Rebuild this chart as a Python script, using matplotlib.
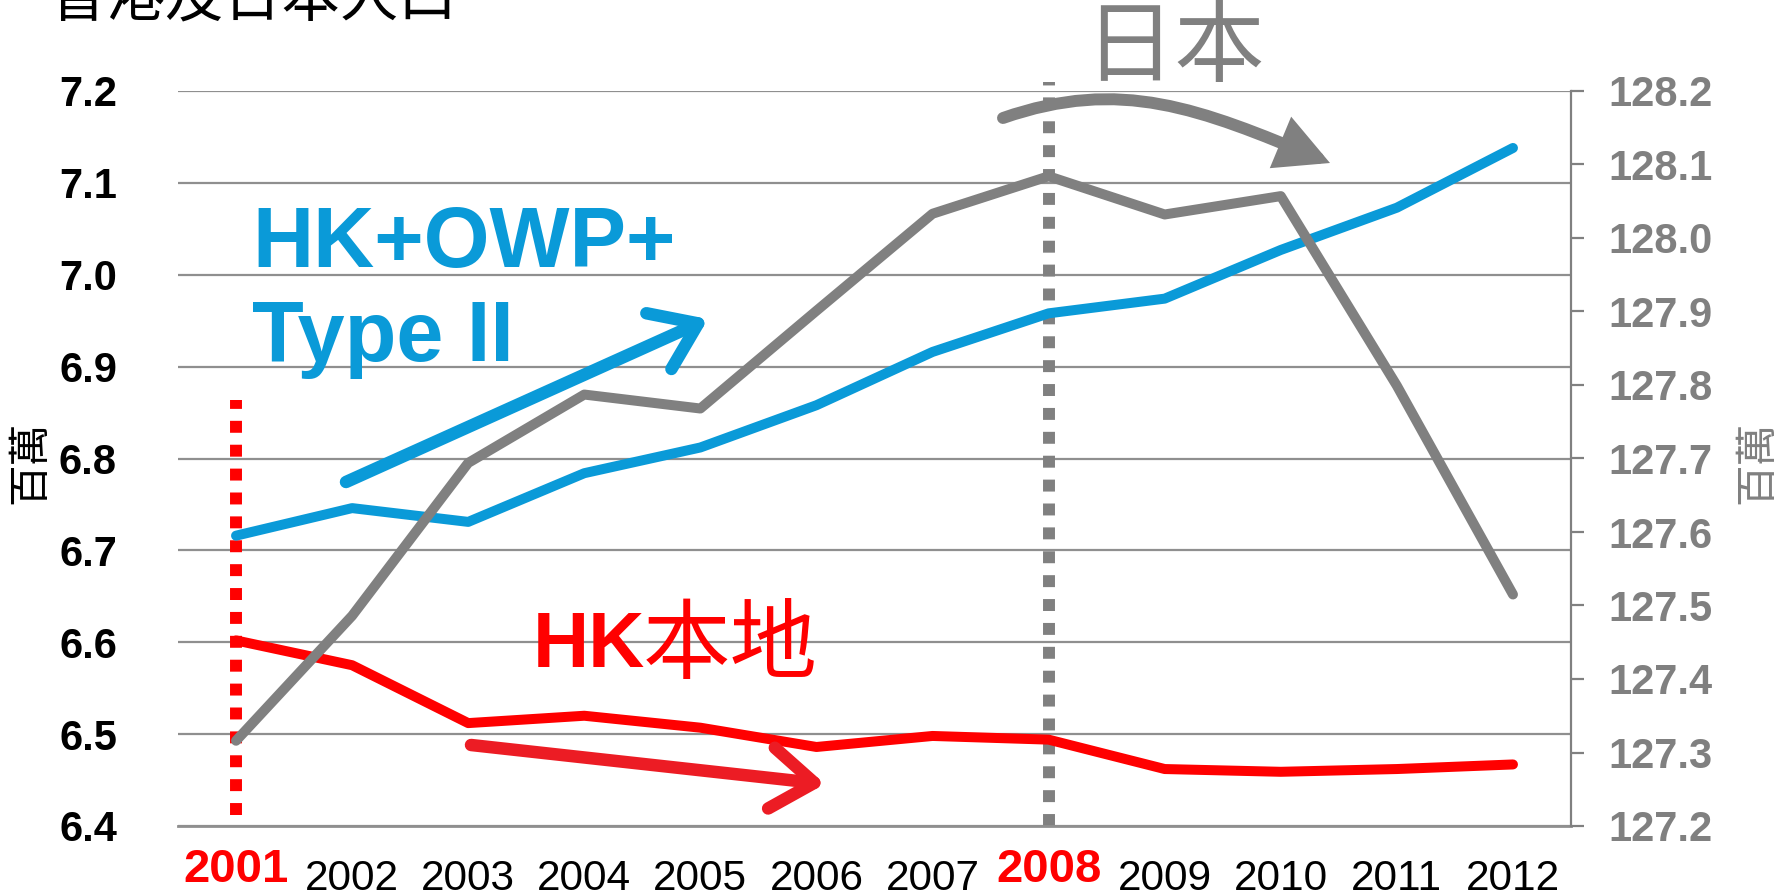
import matplotlib
matplotlib.use("Agg")
import matplotlib.pyplot as plt
from matplotlib.patches import FancyArrowPatch, ArrowStyle
from matplotlib.path import Path
from matplotlib.transforms import IdentityTransform

plt.rcParams['font.family'] = ['Liberation Sans', 'Noto Sans CJK TC']

# ---------------- data ----------------
years = [2001, 2002, 2003, 2004, 2005, 2006, 2007, 2008, 2009, 2010, 2011, 2012]
hk_owp_type2 = [6.716, 6.746, 6.731, 6.784, 6.812, 6.858, 6.916, 6.958, 6.974, 7.027, 7.073, 7.138]
hk_local = [6.602, 6.575, 6.512, 6.520, 6.507, 6.486, 6.498, 6.494, 6.462, 6.459, 6.462, 6.467]
japan = [127.316, 127.486, 127.694, 127.787, 127.768, 127.901, 128.033, 128.084, 128.032, 128.057, 127.799, 127.515]
left_ticks = [6.4, 6.5, 6.6, 6.7, 6.8, 6.9, 7.0, 7.1, 7.2]
right_ticks = [127.2, 127.3, 127.4, 127.5, 127.6, 127.7, 127.8, 127.9, 128.0, 128.1, 128.2]
highlight_years = [2001, 2008]
red_marker_range = [6.412, 6.864]
gray_marker_range = [6.4, 7.21]

title = '香港及日本人口'
unit = '百萬'

BLUE = '#0A9AD8'
RED = '#FF0000'
ARROW_RED = '#EC1C24'
GRAY = '#808080'
GRID = '#8F8F8F'
CJK = 'Noto Sans CJK TC'

W, H = 1779, 896
fig = plt.figure(figsize=(W / 100, H / 100), dpi=100)
ax = fig.add_axes([178 / W, 1 - 826 / H, (1571 - 178) / W, (826 - 91) / H])
ax2 = ax.twinx()


def fp(x, y):
    return x / W, 1 - y / H


# lines
ax.plot(years, hk_owp_type2, color=BLUE, lw=7.2, solid_capstyle='round', solid_joinstyle='round', zorder=3)
ax.plot(years, hk_local, color=RED, lw=7.2, solid_capstyle='round', solid_joinstyle='round', zorder=3)
ax2.plot(years, japan, color=GRAY, lw=7.2, solid_capstyle='round', solid_joinstyle='round', zorder=3)

# highlight dotted verticals
ax.plot([highlight_years[0]] * 2, red_marker_range, color=RED, lw=8.6, linestyle=(0, (1, 1)),
        dash_capstyle='butt', zorder=2, clip_on=False)
ax.plot([highlight_years[1]] * 2, gray_marker_range, color=GRAY, lw=8.6, linestyle=(0, (1, 1)),
        dash_capstyle='butt', zorder=2, clip_on=False)

# axes
ax.set_xlim(2000.5, 2012.5)
ax.set_ylim(left_ticks[0], left_ticks[-1])
ax2.set_ylim(right_ticks[0], right_ticks[-1])
ax.set_yticks(left_ticks)
ax.set_yticklabels([f'{v:.1f}' for v in left_ticks], fontsize=30, fontweight='bold')
ax2.set_yticks(right_ticks)
ax2.set_yticklabels([f'{v:.1f}' for v in right_ticks], fontsize=30, fontweight='bold', color=GRAY)
ax.set_xticks([])
ax.yaxis.grid(True, color=GRID, lw=1.6)
ax.set_axisbelow(True)
ax.tick_params(axis='y', length=0, pad=44)
ax2.tick_params(axis='y', length=9, width=1.6, color=GRAY, pad=18)
for s in ['left', 'top', 'right']:
    ax.spines[s].set_visible(False)
ax.spines['bottom'].set_color(GRID)
ax.spines['bottom'].set_linewidth(2)
for s in ['left', 'top', 'bottom']:
    ax2.spines[s].set_visible(False)
ax2.spines['right'].set_color(GRAY)
ax2.spines['right'].set_linewidth(1.6)

# year labels
for y in years:
    if y in highlight_years:
        ax.annotate(str(y), xy=(y, 0), xycoords=('data', 'axes fraction'), xytext=(0, -16),
                    textcoords='offset points', ha='center', va='top', fontsize=34,
                    fontweight='bold', color=RED)
    else:
        ax.annotate(str(y), xy=(y, 0), xycoords=('data', 'axes fraction'), xytext=(0, -24),
                    textcoords='offset points', ha='center', va='top', fontsize=30.5, color='black')

# unit labels
fig.text(*fp(31, 462), unit, rotation=90, fontsize=30, family=CJK, ha='center', va='center')
fig.text(*fp(1758, 462), unit, rotation=90, fontsize=30, family=CJK, ha='center', va='center', color=GRAY)

# title (partly cut off at top)
fig.text(*fp(49, 16), title, fontsize=42, family=CJK, ha='left', va='baseline')

# series annotations
fig.text(*fp(252, 267), 'HK+OWP+', fontsize=61, fontweight='bold', color=BLUE, ha='left', va='baseline')
fig.text(*fp(252, 361), 'Type II', fontsize=61, fontweight='bold', color=BLUE, ha='left', va='baseline')
fig.text(*fp(533, 667), 'HK', fontsize=56, fontweight='bold', color=RED, ha='left', va='baseline')
fig.text(*fp(643, 672), '本地', fontsize=63, family=CJK, color=RED, ha='left', va='baseline')
fig.text(*fp(1174, 50), '日本', fontsize=65, family=CJK, color=GRAY, ha='center', va='center')

# trend arrows (display pixel coords)
open_head = ArrowStyle('->', head_length=3.1, head_width=2.2)
fig.add_artist(FancyArrowPatch((346, H - 482), (708, H - 319), transform=IdentityTransform(),
                               arrowstyle=open_head, mutation_scale=10, lw=9, color=BLUE,
                               capstyle='round', joinstyle='round', shrinkA=0, shrinkB=0))
fig.add_artist(FancyArrowPatch((471, H - 745), (825, H - 784), transform=IdentityTransform(),
                               arrowstyle=open_head, mutation_scale=10, lw=9, color=ARROW_RED,
                               capstyle='round', joinstyle='round', shrinkA=0, shrinkB=0))
curve = Path([(1003, H - 118), (1121, H - 77), (1200, H - 109), (1330, H - 163)],
             [Path.MOVETO, Path.CURVE4, Path.CURVE4, Path.CURVE4])
fig.add_artist(FancyArrowPatch(path=curve, transform=IdentityTransform(),
                               arrowstyle=ArrowStyle('-|>', head_length=2.5, head_width=1.3),
                               mutation_scale=10, lw=8.6, color=GRAY, joinstyle='miter'))

fig.savefig('out.png', dpi=100)
